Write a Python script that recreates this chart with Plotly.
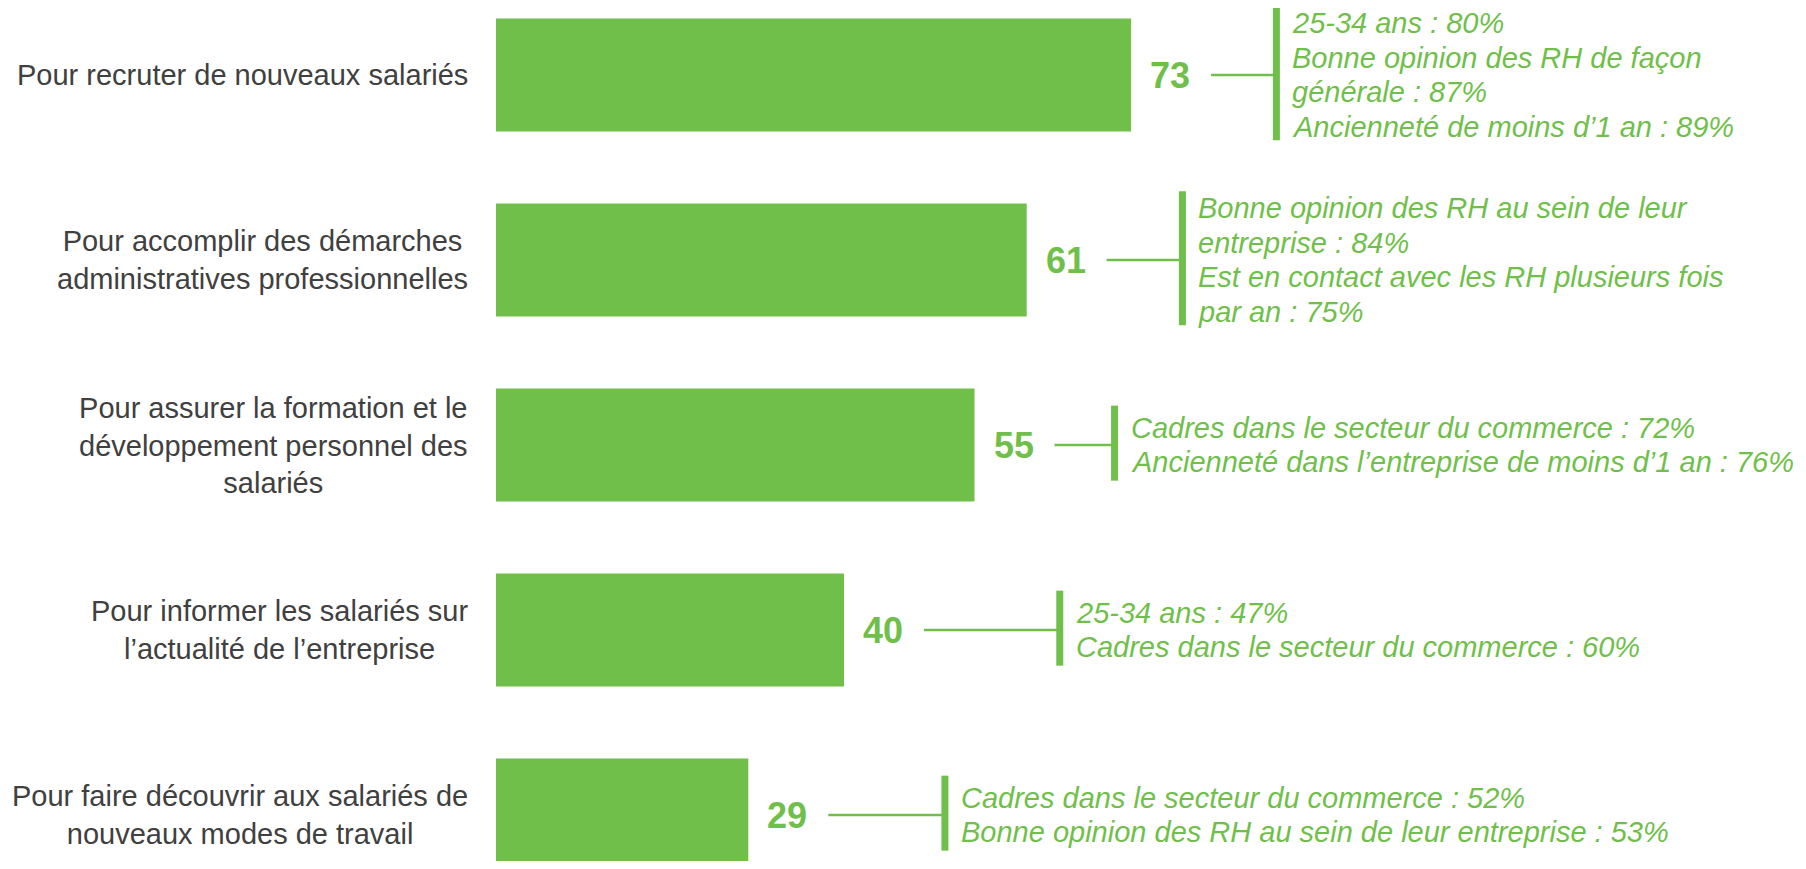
import plotly.graph_objects as go

# ---- data ----
categories = [
    "Pour recruter de nouveaux salariés",
    "Pour accomplir des démarches<br>administratives professionnelles",
    "Pour assurer la formation et le<br>développement personnel des<br>salariés",
    "Pour informer les salariés sur<br>l’actualité de l’entreprise",
    "Pour faire découvrir aux salariés de<br>nouveaux modes de travail",
]
values = [73, 61, 55, 40, 29]
details = [
    ["25-34 ans : 80%", "Bonne opinion des RH de façon", "générale : 87%",
     "Ancienneté de moins d’1 an : 89%"],
    ["Bonne opinion des RH au sein de leur", "entreprise : 84%",
     "Est en contact avec les RH plusieurs fois", "par an : 75%"],
    ["Cadres dans le secteur du commerce : 72%",
     "Ancienneté dans l’entreprise de moins d’1 an : 76%"],
    ["25-34 ans : 47%", "Cadres dans le secteur du commerce : 60%"],
    ["Cadres dans le secteur du commerce : 52%",
     "Bonne opinion des RH au sein de leur entreprise : 53%"],
]

# ---- style / layout ----
GREEN = "#70BF4B"
GREY = "#404040"
PAGE_MARGIN = 8          # default body margin of the html page
W, H = 1806 - 2 * PAGE_MARGIN, 869 - 2 * PAGE_MARGIN
PX_PER_UNIT = 8.70       # horizontal scale
ORIGIN_PX = 496 - PAGE_MARGIN
ROW_PX = 185
FIRST_ROW_PX = 75 - PAGE_MARGIN
bracket_gap = [16.7, 17.9, 16.1, 24.8, 22.6]   # bracket distance from bar end (units)
connector_start_px = 80
DETAIL_LINE_PX = 34.4

x_min = -ORIGIN_PX / PX_PER_UNIT
x_max = x_min + W / PX_PER_UNIT
y_top = -FIRST_ROW_PX / ROW_PX
y_bot = y_top + H / ROW_PX

ypos = list(range(len(values)))

fig = go.Figure()
fig.add_trace(go.Bar(
    x=values, y=ypos, orientation="h", width=0.61,
    marker=dict(color=GREEN, line=dict(width=0)),
    hoverinfo="skip",
))

shapes = []
annotations = []
for i, (cat, v, det) in enumerate(zip(categories, values, details)):
    annotations.append(dict(
        x=0, y=i, xref="x", yref="y", xanchor="right", yanchor="middle",
        xshift=-26, align="center", showarrow=False, text=cat,
        font=dict(family="Liberation Sans, Arial", size=29, color=GREY),
    ))
    annotations.append(dict(
        x=v, y=i, xref="x", yref="y", xanchor="left", yanchor="middle",
        xshift=17, showarrow=False, text=f"<b>{v}</b>",
        font=dict(family="Liberation Sans, Arial", size=36, color=GREEN),
    ))
    bx = v + bracket_gap[i]
    x0 = v + connector_start_px / PX_PER_UNIT
    shapes.append(dict(type="line", xref="x", yref="y", x0=x0, x1=bx, y0=i, y1=i,
                       line=dict(color=GREEN, width=2.5)))
    n = len(det)
    half = (29.5 * n + 16) / 2 / ROW_PX
    shapes.append(dict(type="line", xref="x", yref="y", x0=bx, x1=bx,
                       y0=i - half - 0.01, y1=i + half - 0.01,
                       line=dict(color=GREEN, width=7)))
    for k, t in enumerate(det):
        annotations.append(dict(
            x=bx, y=i, xref="x", yref="y", xanchor="left", yanchor="middle",
            xshift=14, yshift=-(k - (n - 1) / 2) * DETAIL_LINE_PX,
            align="left", showarrow=False, text=f"<i>{t}</i>",
            font=dict(family="Liberation Sans, Arial", size=29, color=GREEN),
        ))

fig.update_layout(
    width=W, height=H,
    margin=dict(l=0, r=0, t=0, b=0),
    paper_bgcolor="white", plot_bgcolor="white",
    showlegend=False,
    xaxis=dict(range=[x_min, x_max], visible=False, fixedrange=True),
    yaxis=dict(range=[y_bot, y_top], visible=False, fixedrange=True),
    shapes=shapes, annotations=annotations,
)

fig.write_html("out.html")
